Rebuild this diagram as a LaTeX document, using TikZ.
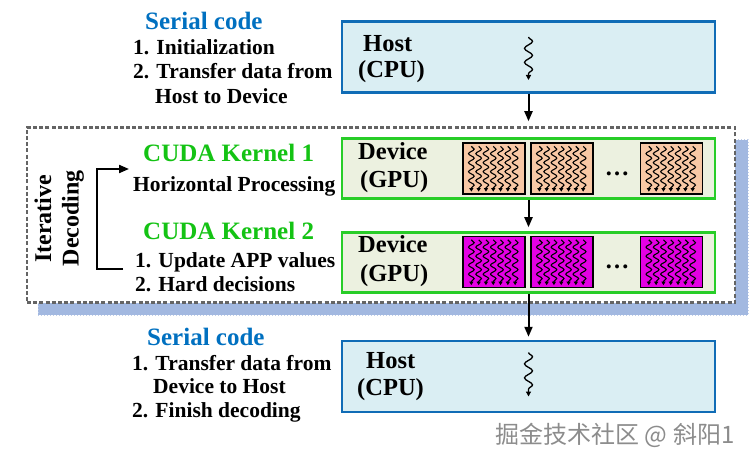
\documentclass[tikz,border=0pt]{standalone}
\usepackage{fontspec}
\setmainfont{Liberation Serif}
\newfontfamily\cjkfont{Noto Sans CJK SC}
\usetikzlibrary{arrows.meta,decorations.pathmorphing,calc}
\definecolor{hostfill}{RGB}{218,238,243}
\definecolor{hostline}{RGB}{16,108,182}
\definecolor{devfill}{RGB}{236,241,224}
\definecolor{devline}{RGB}{40,205,40}
\definecolor{serialblue}{RGB}{0,112,192}
\definecolor{cudagreen}{RGB}{20,195,20}
\definecolor{orangeblk}{RGB}{248,200,165}
\definecolor{magentablk}{RGB}{228,0,228}
\definecolor{shadowblue}{RGB}{162,184,224}
\definecolor{framegray}{RGB}{100,100,100}
\definecolor{wmgray}{RGB}{140,140,140}
\begin{document}
\begin{tikzpicture}[x=1pt,y=-1pt,
  hostbox/.style={draw=hostline,fill=hostfill,line width=2.5pt,minimum width=373pt,minimum height=71pt,inner sep=0pt},
  devbox/.style={draw=devline,fill=devfill,line width=2.5pt,minimum width=373pt,minimum height=60pt,inner sep=0pt},
  blk/.style={draw=black,line width=1.3pt,minimum width=62pt,minimum height=51pt,inner sep=0pt},
  txt/.style={anchor=base west,inner sep=0pt,font=\fontsize{21.5}{24}\selectfont\bfseries},
  head/.style={anchor=base west,inner sep=0pt,font=\fontsize{25}{28}\selectfont\bfseries},
  boxtxt/.style={anchor=base west,inner sep=0pt,font=\fontsize{24.5}{27}\selectfont\bfseries},
  arr/.style={line width=2pt,-{Triangle[length=10pt,width=8pt]}},
  thread/.style={line width=1.1pt,decorate,decoration={snake,amplitude=2.8pt,segment length=9pt,post length=3pt},-{Triangle[length=3.5pt,width=4pt]}},
  squig/.style={line width=1.3pt,decorate,decoration={snake,amplitude=4pt,segment length=14pt,post length=3pt},-{Triangle[length=5pt,width=5pt]}}
]
\useasboundingbox (0,0) rectangle (755,465);

% shadow and dashed frame
\node[fill=shadowblue,draw=shadowblue!70,dotted,line width=1pt,minimum width=710pt,minimum height=175pt,inner sep=0pt] (shadow) at (393,227.5) {};
\node[fill=white,draw=framegray,line width=2.6pt,dash pattern=on 4pt off 2.2pt,minimum width=708pt,minimum height=175pt,inner sep=0pt] (frame) at (381,215) {};

% boxes
\node[hostbox] (host1) at (528.5,57) {};
\node[devbox] (dev1) at (528.5,168.5) {};
\node[devbox] (dev2) at (528.5,262.5) {};
\node[hostbox] (host2) at (528.5,376.5) {};

% box texts
\node[boxtxt] (h1a) at (363,52) {Host};
\node[boxtxt] (h1b) at (358,78) {(CPU)};
\node[boxtxt] (d1a) at (358,160) {Device};
\node[boxtxt] (d1b) at (360,188) {(GPU)};
\node[boxtxt] (d2a) at (358,253) {Device};
\node[boxtxt] (d2b) at (360,281) {(GPU)};
\node[boxtxt] (h2a) at (366,368) {Host};
\node[boxtxt] (h2b) at (357,395) {(CPU)};

% host squiggles
\draw[squig] ($(host1.center)+(0,-20)$) -- ($(host1.center)+(0,23)$);
\draw[squig] ($(host2.center)+(0,-24)$) -- ($(host2.center)+(0,20)$);

% blocks
\node[blk,fill=orangeblk] (a1) at (494,168.5) {};
\node[blk,fill=orangeblk] (a2) at (562,168.5) {};
\node[blk,fill=orangeblk] (a3) at (671.5,168.5) {};
\node[blk,fill=magentablk] (m1) at (494,262) {};
\node[blk,fill=magentablk] (m2) at (562,262) {};
\node[blk,fill=magentablk] (m3) at (671.5,262) {};
\foreach \b in {a1,a2,a3,m1,m2,m3}{
  \foreach \i in {0,...,6}{
    \draw[thread] ($(\b.north west)+(9+\i*7.3,4)$) -- ($(\b.south west)+(9+\i*7.3,-3)$);
  }
}
\node[boxtxt,anchor=base] (dots1) at (617,176) {\dots};
\node[boxtxt,anchor=base] (dots2) at (617,269) {\dots};

% vertical arrows
\draw[arr,shorten >=16pt] (host1.south) -- (dev1.north);
\draw[arr,shorten >=4pt] (dev1.south) -- (dev2.north);
\draw[arr,shorten >=3pt] (dev2.south) -- (host2.north);

% left texts top
\node[head,text=serialblue] (s1) at (145,30) {Serial code};
\node[txt] (t1) at (133,55) {1. Initialization};
\node[txt] (t2) at (133,79) {2. Transfer data from};
\node[txt] (t3) at (155,104) {Host to Device};

% kernels
\node[head,text=cudagreen] (k1) at (143,162) {CUDA Kernel 1};
\node[txt] (k1a) at (133,192) {Horizontal Processing};
\node[head,text=cudagreen] (k2) at (143,240) {CUDA Kernel 2};
\node[txt] (k2a) at (135,267) {1. Update APP values};
\node[txt] (k2b) at (135,291) {2. Hard decisions};

% iterative decoding
\node[rotate=90,inner sep=0pt,font=\fontsize{24}{27}\selectfont\bfseries] (it) at (43,219) {Iterative};
\node[rotate=90,inner sep=0pt,font=\fontsize{24}{27}\selectfont\bfseries] (de) at (73,218) {Decoding};
\coordinate (brT) at (129,169);
\coordinate (brC1) at (97,169);
\coordinate (brC2) at (97,269);
\coordinate (brB) at (123,269);
\draw[line width=2pt,-{Triangle[length=10pt,width=8pt]}] (brB) -- (brC2) -- (brC1) -- (brT);

% bottom texts
\node[head,text=serialblue] (s2) at (147,345) {Serial code};
\node[txt] (u1) at (132,370) {1. Transfer data from};
\node[txt] (u2) at (153,393) {Device to Host};
\node[txt] (u3) at (132,417) {2. Finish decoding};

% watermark
\node[inner sep=0pt,text=wmgray,font=\cjkfont\fontsize{24}{26}\selectfont] (wm) at (615,435) {掘金技术社区 @ 斜阳1};
\end{tikzpicture}
\end{document}
